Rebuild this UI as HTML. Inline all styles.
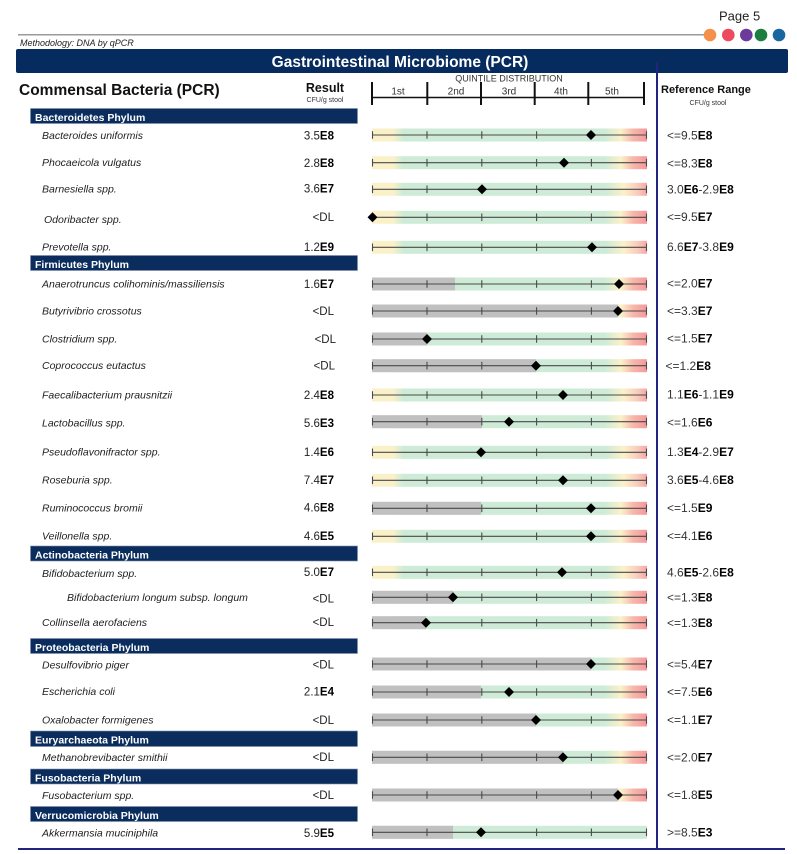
<!DOCTYPE html>
<html><head><meta charset="utf-8"><style>
html,body{margin:0;padding:0;background:#fff;}
svg{display:block;font-family:"Liberation Sans",Arial,sans-serif;}
</style></head><body>
<svg width="797" height="854" viewBox="0 0 797 854" xmlns="http://www.w3.org/2000/svg">
<defs>
<linearGradient id="gL" x1="372" x2="647" y1="0" y2="0" gradientUnits="userSpaceOnUse">
<stop offset="0" stop-color="#fbf1c9"/><stop offset="0.075" stop-color="#fbf1c9"/>
<stop offset="0.115" stop-color="#cdebd6"/><stop offset="0.845" stop-color="#cdebd6"/>
<stop offset="0.905" stop-color="#fbf1c9"/><stop offset="0.95" stop-color="#f7b7ab"/>
<stop offset="1" stop-color="#f4979a"/></linearGradient>
<linearGradient id="gR" x1="372" x2="647" y1="0" y2="0" gradientUnits="userSpaceOnUse">
<stop offset="0" stop-color="#fbf1c9"/><stop offset="0.075" stop-color="#fbf1c9"/>
<stop offset="0.115" stop-color="#cdebd6"/><stop offset="0.85" stop-color="#cdebd6"/>
<stop offset="0.915" stop-color="#fbf1c9"/><stop offset="0.965" stop-color="#f8cdbd"/>
<stop offset="1" stop-color="#f5a7a4"/></linearGradient>
<rect id="bL" x="372" y="-6.5" width="275" height="13" fill="url(#gL)"/>
<rect id="bR" x="372" y="-6.5" width="275" height="13" fill="url(#gR)"/>
<rect id="bG" x="372" y="-6.5" width="275" height="13" fill="#cdebd6"/>
<g id="ax" stroke="#4a4a4a" stroke-width="1.1" fill="none">
<line x1="372" y1="0" x2="647" y2="0"/>
<path d="M372.5 -3.8v7.6M427 -3.8v7.6M481.8 -3.8v7.6M536.6 -3.8v7.6M591.4 -3.8v7.6M646.5 -3.8v7.6"/>
</g>
</defs>

<!-- page header -->
<text x="719" y="20.5" font-size="13" fill="#222">Page 5</text>
<line x1="18" y1="34.8" x2="706" y2="34.8" stroke="#9a9a9a" stroke-width="1.5"/>
<circle cx="710" cy="35" r="6.3" fill="#f4904a"/>
<circle cx="728.3" cy="35" r="6.3" fill="#ed4a5f"/>
<circle cx="746.3" cy="35" r="6.3" fill="#6b3b9c"/>
<circle cx="761" cy="35" r="6.3" fill="#1b7e3e"/>
<circle cx="779" cy="35" r="6.3" fill="#19679f"/>
<text x="20" y="46" font-size="9" font-style="italic" fill="#222">Methodology: DNA by qPCR</text>

<rect x="16" y="49" width="772" height="24" rx="2" fill="#062b5f"/>
<text x="400" y="67" font-size="15.5" font-weight="bold" fill="#fff" text-anchor="middle">Gastrointestinal Microbiome (PCR)</text>

<text x="19" y="95" font-size="15.5" font-weight="bold" fill="#111">Commensal Bacteria (PCR)</text>
<text x="325" y="92" font-size="12.5" font-weight="bold" fill="#111" text-anchor="middle">Result</text>
<text x="325" y="102" font-size="7" fill="#333" text-anchor="middle">CFU/g stool</text>

<text x="509" y="81.5" font-size="9" fill="#333" text-anchor="middle">QUINTILE DISTRIBUTION</text>
<line x1="371" y1="97.5" x2="645" y2="97.5" stroke="#111" stroke-width="1.5"/>
<path d="M372 82v23M427.3 82v23M481 82v23M534.7 82v23M588.3 82v23M644 82v23" stroke="#111" stroke-width="2" fill="none"/>
<g font-size="10" fill="#333" text-anchor="middle">
<text x="398" y="94.5">1st</text><text x="456" y="94.5">2nd</text><text x="509" y="94.5">3rd</text><text x="561" y="94.5">4th</text><text x="612" y="94.5">5th</text>
</g>
<text x="661" y="93" font-size="11" font-weight="bold" fill="#111">Reference Range</text>
<text x="708" y="105" font-size="7" fill="#333" text-anchor="middle">CFU/g stool</text>

<!-- phylum bars -->
<g fill="#0a2d5e" stroke="#8090ac" stroke-width="0.6">
<rect x="30.5" y="108.5" width="327" height="15"/>
<rect x="30.5" y="255.5" width="327" height="15"/>
<rect x="30.5" y="546" width="327" height="15"/>
<rect x="30.5" y="638.5" width="327" height="15"/>
<rect x="30.5" y="731" width="327" height="15.5"/>
<rect x="30.5" y="769" width="327" height="15"/>
<rect x="30.5" y="806.5" width="327" height="15"/>
</g>
<g font-size="10.5" font-weight="bold" fill="#fff">
<text x="35" y="121">Bacteroidetes Phylum</text>
<text x="35" y="268">Firmicutes Phylum</text>
<text x="35" y="558.5">Actinobacteria Phylum</text>
<text x="35" y="651">Proteobacteria Phylum</text>
<text x="35" y="743.5">Euryarchaeota Phylum</text>
<text x="35" y="781.5">Fusobacteria Phylum</text>
<text x="35" y="819">Verrucomicrobia Phylum</text>
</g>

<!-- species names -->
<g font-size="10.5" font-style="italic" fill="#1e1e1e">
<text x="42" y="139">Bacteroides uniformis</text>
<text x="42" y="166">Phocaeicola vulgatus</text>
<text x="42" y="192.5">Barnesiella spp.</text>
<text x="44" y="223">Odoribacter spp.</text>
<text x="42" y="250.7">Prevotella spp.</text>
<text x="42" y="287.5">Anaerotruncus colihominis/massiliensis</text>
<text x="42" y="314.7">Butyrivibrio crossotus</text>
<text x="42" y="342.5">Clostridium spp.</text>
<text x="42" y="369">Coprococcus eutactus</text>
<text x="42" y="398.5">Faecalibacterium prausnitzii</text>
<text x="42" y="426.5">Lactobacillus spp.</text>
<text x="42" y="455.7">Pseudoflavonifractor spp.</text>
<text x="42" y="483.5">Roseburia spp.</text>
<text x="42" y="511.5">Ruminococcus bromii</text>
<text x="42" y="539.3">Veillonella spp.</text>
<text x="42" y="577">Bifidobacterium spp.</text>
<text x="67" y="601">Bifidobacterium longum subsp. longum</text>
<text x="42" y="626">Collinsella aerofaciens</text>
<text x="42" y="668.5">Desulfovibrio piger</text>
<text x="42" y="695">Escherichia coli</text>
<text x="42" y="723.5">Oxalobacter formigenes</text>
<text x="42" y="761">Methanobrevibacter smithii</text>
<text x="42" y="799">Fusobacterium spp.</text>
<text x="42" y="836.5">Akkermansia muciniphila</text>
</g>

<!-- results -->
<g font-size="11.5" fill="#222" text-anchor="end">
<text x="334" y="139.5">3.5<tspan font-weight="bold" fill="#000">E8</tspan></text>
<text x="334" y="167">2.8<tspan font-weight="bold" fill="#000">E8</tspan></text>
<text x="334" y="192.5">3.6<tspan font-weight="bold" fill="#000">E7</tspan></text>
<text x="334" y="221">&lt;DL</text>
<text x="334" y="251">1.2<tspan font-weight="bold" fill="#000">E9</tspan></text>
<text x="334" y="288">1.6<tspan font-weight="bold" fill="#000">E7</tspan></text>
<text x="334" y="315">&lt;DL</text>
<text x="336" y="343">&lt;DL</text>
<text x="335" y="369.5">&lt;DL</text>
<text x="334" y="399">2.4<tspan font-weight="bold" fill="#000">E8</tspan></text>
<text x="334" y="427">5.6<tspan font-weight="bold" fill="#000">E3</tspan></text>
<text x="334" y="456">1.4<tspan font-weight="bold" fill="#000">E6</tspan></text>
<text x="334" y="484">7.4<tspan font-weight="bold" fill="#000">E7</tspan></text>
<text x="334" y="511.5">4.6<tspan font-weight="bold" fill="#000">E8</tspan></text>
<text x="334" y="540">4.6<tspan font-weight="bold" fill="#000">E5</tspan></text>
<text x="334" y="576">5.0<tspan font-weight="bold" fill="#000">E7</tspan></text>
<text x="334" y="602.5">&lt;DL</text>
<text x="334" y="626">&lt;DL</text>
<text x="334" y="668.5">&lt;DL</text>
<text x="334" y="695.5">2.1<tspan font-weight="bold" fill="#000">E4</tspan></text>
<text x="334" y="724">&lt;DL</text>
<text x="334" y="761">&lt;DL</text>
<text x="334" y="799">&lt;DL</text>
<text x="334" y="837">5.9<tspan font-weight="bold" fill="#000">E5</tspan></text>
</g>

<!-- reference ranges -->
<g font-size="12" fill="#333">
<text x="667" y="139.3">&lt;=9.5<tspan font-weight="bold" fill="#000">E8</tspan></text>
<text x="667" y="167.6">&lt;=8.3<tspan font-weight="bold" fill="#000">E8</tspan></text>
<text x="667" y="193.3">3.0<tspan font-weight="bold" fill="#000">E6</tspan>-2.9<tspan font-weight="bold" fill="#000">E8</tspan></text>
<text x="667" y="221">&lt;=9.5<tspan font-weight="bold" fill="#000">E7</tspan></text>
<text x="667" y="251">6.6<tspan font-weight="bold" fill="#000">E7</tspan>-3.8<tspan font-weight="bold" fill="#000">E9</tspan></text>
<text x="667" y="287.6">&lt;=2.0<tspan font-weight="bold" fill="#000">E7</tspan></text>
<text x="667" y="315">&lt;=3.3<tspan font-weight="bold" fill="#000">E7</tspan></text>
<text x="667" y="342.6">&lt;=1.5<tspan font-weight="bold" fill="#000">E7</tspan></text>
<text x="665.5" y="370">&lt;=1.2<tspan font-weight="bold" fill="#000">E8</tspan></text>
<text x="667" y="398.3">1.1<tspan font-weight="bold" fill="#000">E6</tspan>-1.1<tspan font-weight="bold" fill="#000">E9</tspan></text>
<text x="667" y="426.5">&lt;=1.6<tspan font-weight="bold" fill="#000">E6</tspan></text>
<text x="667" y="456">1.3<tspan font-weight="bold" fill="#000">E4</tspan>-2.9<tspan font-weight="bold" fill="#000">E7</tspan></text>
<text x="667" y="484">3.6<tspan font-weight="bold" fill="#000">E5</tspan>-4.6<tspan font-weight="bold" fill="#000">E8</tspan></text>
<text x="667" y="512">&lt;=1.5<tspan font-weight="bold" fill="#000">E9</tspan></text>
<text x="667" y="540">&lt;=4.1<tspan font-weight="bold" fill="#000">E6</tspan></text>
<text x="667" y="576.5">4.6<tspan font-weight="bold" fill="#000">E5</tspan>-2.6<tspan font-weight="bold" fill="#000">E8</tspan></text>
<text x="667" y="601.5">&lt;=1.3<tspan font-weight="bold" fill="#000">E8</tspan></text>
<text x="667" y="627">&lt;=1.3<tspan font-weight="bold" fill="#000">E8</tspan></text>
<text x="667" y="668.3">&lt;=5.4<tspan font-weight="bold" fill="#000">E7</tspan></text>
<text x="667" y="696">&lt;=7.5<tspan font-weight="bold" fill="#000">E6</tspan></text>
<text x="667" y="724">&lt;=1.1<tspan font-weight="bold" fill="#000">E7</tspan></text>
<text x="667" y="761.5">&lt;=2.0<tspan font-weight="bold" fill="#000">E7</tspan></text>
<text x="667" y="799">&lt;=1.8<tspan font-weight="bold" fill="#000">E5</tspan></text>
<text x="667" y="836.5">&gt;=8.5<tspan font-weight="bold" fill="#000">E3</tspan></text>
</g>

<!-- bars -->
<g fill="#000">
<g transform="translate(0,135)"><use href="#bL"/><use href="#ax"/><path d="M591 -5l5 5-5 5-5-5z"/></g>
<g transform="translate(0,162.7)"><use href="#bL"/><use href="#ax"/><path d="M564 -5l5 5-5 5-5-5z"/></g>
<g transform="translate(0,189.3)"><use href="#bR"/><use href="#ax"/><path d="M482 -5l5 5-5 5-5-5z"/></g>
<g transform="translate(0,217.3)"><use href="#bL"/><use href="#ax"/><path d="M372.5 -5l5 5-5 5-5-5z"/></g>
<g transform="translate(0,247.3)"><use href="#bR"/><use href="#ax"/><path d="M592 -5l5 5-5 5-5-5z"/></g>

<g transform="translate(0,284)"><use href="#bL"/><rect x="372" y="-6.5" width="83" height="13" fill="#c0c0c0"/><use href="#ax"/><path d="M619 -5l5 5-5 5-5-5z"/></g>
<g transform="translate(0,311)"><use href="#bL"/><rect x="372" y="-6.5" width="246" height="13" fill="#c0c0c0"/><use href="#ax"/><path d="M618 -5l5 5-5 5-5-5z"/></g>
<g transform="translate(0,339)"><use href="#bL"/><rect x="372" y="-6.5" width="55" height="13" fill="#c0c0c0"/><use href="#ax"/><path d="M427 -5l5 5-5 5-5-5z"/></g>
<g transform="translate(0,365.7)"><use href="#bL"/><rect x="372" y="-6.5" width="164" height="13" fill="#c0c0c0"/><use href="#ax"/><path d="M536 -5l5 5-5 5-5-5z"/></g>
<g transform="translate(0,395)"><use href="#bR"/><use href="#ax"/><path d="M563 -5l5 5-5 5-5-5z"/></g>
<g transform="translate(0,421.7)"><use href="#bL"/><rect x="372" y="-6.5" width="110" height="13" fill="#c0c0c0"/><use href="#ax"/><path d="M509 -5l5 5-5 5-5-5z"/></g>
<g transform="translate(0,452.3)"><use href="#bR"/><use href="#ax"/><path d="M481 -5l5 5-5 5-5-5z"/></g>
<g transform="translate(0,480.3)"><use href="#bR"/><use href="#ax"/><path d="M563 -5l5 5-5 5-5-5z"/></g>
<g transform="translate(0,508.3)"><use href="#bL"/><rect x="372" y="-6.5" width="109" height="13" fill="#c0c0c0"/><use href="#ax"/><path d="M591 -5l5 5-5 5-5-5z"/></g>
<g transform="translate(0,536.3)"><use href="#bL"/><use href="#ax"/><path d="M591 -5l5 5-5 5-5-5z"/></g>

<g transform="translate(0,572.3)"><use href="#bR"/><use href="#ax"/><path d="M562 -5l5 5-5 5-5-5z"/></g>
<g transform="translate(0,597.3)"><use href="#bL"/><rect x="372" y="-6.5" width="81" height="13" fill="#c0c0c0"/><use href="#ax"/><path d="M453 -5l5 5-5 5-5-5z"/></g>
<g transform="translate(0,622.7)"><use href="#bL"/><rect x="372" y="-6.5" width="54" height="13" fill="#c0c0c0"/><use href="#ax"/><path d="M426 -5l5 5-5 5-5-5z"/></g>

<g transform="translate(0,664)"><use href="#bL"/><rect x="372" y="-6.5" width="219" height="13" fill="#c0c0c0"/><use href="#ax"/><path d="M591 -5l5 5-5 5-5-5z"/></g>
<g transform="translate(0,692)"><use href="#bL"/><rect x="372" y="-6.5" width="109" height="13" fill="#c0c0c0"/><use href="#ax"/><path d="M509 -5l5 5-5 5-5-5z"/></g>
<g transform="translate(0,720)"><use href="#bL"/><rect x="372" y="-6.5" width="164" height="13" fill="#c0c0c0"/><use href="#ax"/><path d="M536 -5l5 5-5 5-5-5z"/></g>

<g transform="translate(0,757.3)"><use href="#bL"/><rect x="372" y="-6.5" width="191" height="13" fill="#c0c0c0"/><use href="#ax"/><path d="M563 -5l5 5-5 5-5-5z"/></g>
<g transform="translate(0,795)"><use href="#bL"/><rect x="372" y="-6.5" width="246" height="13" fill="#c0c0c0"/><use href="#ax"/><path d="M618 -5l5 5-5 5-5-5z"/></g>
<g transform="translate(0,832.3)"><use href="#bG"/><rect x="372" y="-6.5" width="81" height="13" fill="#c0c0c0"/><use href="#ax"/><path d="M481 -5l5 5-5 5-5-5z"/></g>
</g>

<!-- frame lines -->
<line x1="657" y1="62" x2="657" y2="850" stroke="#232380" stroke-width="2"/>
<line x1="18" y1="849" x2="785" y2="849" stroke="#232380" stroke-width="2"/>
</svg>
</body></html>
